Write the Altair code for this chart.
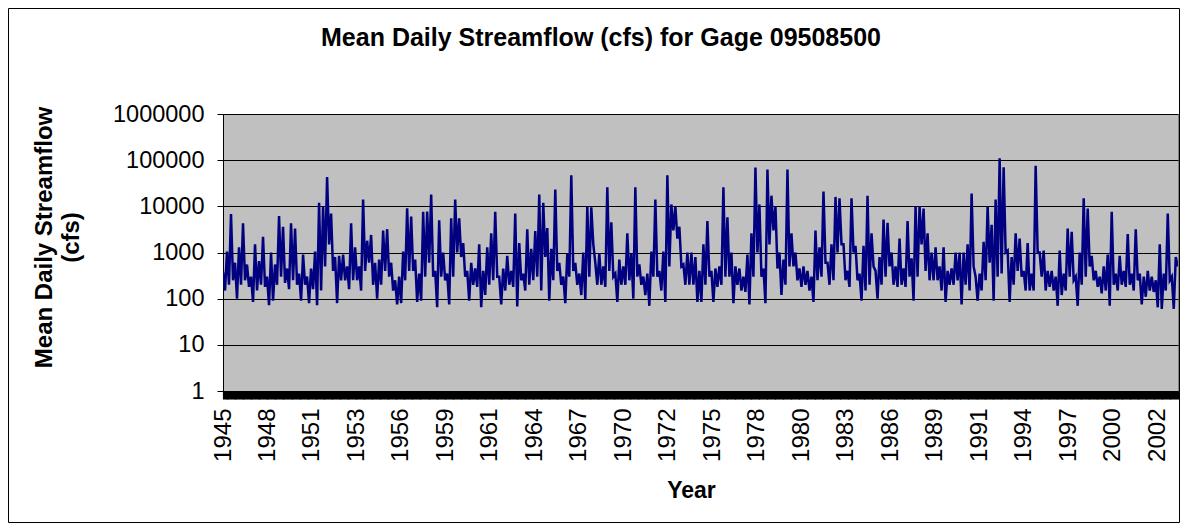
import json
import altair as alt
import pandas as pd

# ---------------- data ----------------
chart_title = "Mean Daily Streamflow (cfs) for Gage 09508500"
y_title = ["Mean Daily Streamflow", "(cfs)"]
x_title = "Year"

# category-axis labels, one every 1000 daily records
year_labels = ["1945", "1948", "1951", "1953", "1956", "1959", "1961", "1964",
               "1967", "1970", "1972", "1975", "1978", "1980", "1983", "1986",
               "1989", "1991", "1994", "1997", "2000", "2002"]
label_step_days = 1000
sample_step_days = 45      # envelope sample spacing (days)
total_days = 21470

y_ticks = [1, 10, 100, 1000, 10000, 100000, 1000000]

# highest flow in each ~90-day window (cfs)
peak_cfs = [
    380, 1050, 6800, 600, 1300, 4300, 550, 300, 1500, 650,
    2200, 300, 1000, 550, 6200, 3600, 450, 4300, 3300, 350,
    900, 300, 450, 1050, 12000, 10000, 43000, 7000, 800, 850,
    900, 500, 4300, 1300, 500, 14000, 1800, 2400, 600, 700,
    3000, 3200, 600, 250, 300, 1050, 9100, 6000, 700, 350,
    7600, 7700, 18000, 400, 5000, 1000, 350, 5500, 14000, 5500,
    1600, 400, 600, 450, 1500, 400, 1300, 2600, 7600, 300,
    450, 850, 400, 7000, 1600, 350, 3200, 1200, 2900, 18000,
    12000, 3400, 1200, 23000, 600, 300, 950, 47000, 600, 350,
    1000, 10000, 9500, 600, 950, 500, 26000, 4500, 350, 700,
    500, 2600, 950, 26000, 550, 300, 350, 1050, 14000, 400,
    1050, 47000, 11000, 10000, 3600, 550, 1000, 1000, 800, 400,
    1500, 4800, 400, 450, 500, 26000, 5800, 1000, 500, 450,
    300, 900, 2600, 69000, 11000, 450, 63000, 17000, 10000, 1000,
    700, 63000, 2600, 1000, 450, 500, 400, 300, 3000, 1300,
    21000, 600, 1500, 16000, 15000, 1500, 400, 15000, 1400, 350,
    1400, 17000, 2600, 400, 800, 5200, 4400, 1000, 500, 2000,
    450, 4800, 750, 10000, 10000, 9000, 2600, 1000, 1300, 500,
    1300, 400, 450, 1000, 1000, 1000, 1500, 19000, 300, 350,
    1700, 10000, 4000, 14000, 110000, 70000, 1100, 800, 2600, 2000,
    400, 1600, 350, 76000, 1000, 1100, 400, 400, 300, 1100,
    350, 3300, 2800, 300, 1000, 15000, 9000, 850, 400, 300,
    500, 900, 7600, 350, 850, 400, 2500, 350, 3200, 350,
    300, 400, 300, 250, 1500, 350, 7000, 300, 800,
]

# lowest flow in each ~90-day window (cfs)
low_cfs = [
    150, 200, 250, 100, 200, 250, 180, 85, 150, 200,
    180, 72, 90, 200, 300, 220, 160, 250, 200, 90,
    200, 80, 160, 72, 150, 500, 1500, 400, 80, 250,
    250, 160, 250, 250, 150, 400, 600, 200, 100, 200,
    400, 300, 150, 75, 80, 250, 400, 400, 85, 90,
    300, 600, 300, 65, 300, 250, 75, 300, 1000, 800,
    300, 90, 200, 180, 65, 120, 200, 250, 300, 75,
    150, 200, 180, 68, 250, 150, 200, 250, 300, 150,
    800, 90, 250, 400, 200, 80, 300, 400, 200, 120,
    95, 300, 1500, 200, 200, 180, 400, 300, 85, 200,
    200, 250, 100, 300, 200, 120, 70, 300, 300, 150,
    85, 500, 3000, 2000, 500, 200, 200, 200, 85, 85,
    200, 300, 85, 180, 200, 300, 300, 80, 200, 150,
    140, 75, 300, 1000, 300, 80, 1500, 3000, 450, 120,
    200, 500, 500, 250, 180, 200, 150, 85, 250, 300,
    600, 200, 250, 1000, 1500, 250, 180, 1000, 250, 90,
    150, 200, 500, 100, 200, 300, 500, 200, 180, 200,
    180, 300, 90, 300, 1500, 400, 250, 250, 250, 150,
    85, 200, 200, 250, 75, 200, 150, 500, 90, 150,
    250, 600, 90, 300, 350, 1000, 85, 200, 400, 300,
    150, 150, 150, 1000, 300, 150, 180, 150, 70, 120,
    150, 300, 250, 70, 200, 300, 500, 250, 180, 130,
    150, 70, 200, 150, 200, 180, 200, 150, 250, 75,
    110, 150, 140, 65, 60, 150, 250, 60, 500,
]

# ---------------- build table ----------------
flow = []
for hi, lo in zip(peak_cfs, low_cfs):
    flow.extend([hi, lo])
df = pd.DataFrame({
    "day": [i * sample_step_days for i in range(len(flow))],
    "cfs": flow,
})

tick_days = list(range(0, total_days, 20))
label_expr = (
    f"datum.value % {label_step_days} === 0 ? "
    f"{json.dumps(year_labels)}[datum.value / {label_step_days}] : ''"
)

FONT = "Liberation Sans"

line = alt.Chart(df).mark_line(color="#000080", strokeWidth=2.5, clip=True).encode(
    x=alt.X(
        "day:Q",
        scale=alt.Scale(domain=[0, total_days], nice=False, zero=False),
        axis=alt.Axis(
            values=tick_days,
            labelExpr=label_expr,
            labelAngle=270,
            labelFont=FONT,
            labelFontSize=24,
            labelColor="black",
            labelPadding=9,
            labelOverlap=False,
            labelFlush=False,
            labelBound=False,
            tickSize=8,
            tickColor="black",
            tickWidth=1.2,
            domainColor="black",
            grid=False,
            title=x_title,
            titleFont=FONT,
            titleFontSize=23,
            titleFontWeight="bold",
            titleColor="black",
            titleX=468,
            titleY=99,
            titleAlign="center",
            titleBaseline="middle",
        ),
    ),
    y=alt.Y(
        "cfs:Q",
        scale=alt.Scale(type="log", domain=[1, 1000000], nice=False),
        axis=alt.Axis(
            values=y_ticks,
            format="d",
            labelFont=FONT,
            labelFontSize=23.5,
            labelColor="black",
            labelPadding=13,
            tickSize=6,
            tickColor="black",
            domainColor="black",
            gridColor="black",
            gridWidth=1,
            gridOpacity=1,
            title=y_title,
            titleFont=FONT,
            titleFontSize=24,
            titleFontWeight="bold",
            titleColor="black",
            titleAngle=270,
            titleX=-179,
            titleY=123,
            titleAlign="center",
            titleBaseline="middle",
            titleLineHeight=27,
        ),
    ),
)

title_mark = alt.Chart(pd.DataFrame({"t": [chart_title]})).mark_text(
    font=FONT, fontSize=25, fontWeight="bold", color="black",
    align="center", baseline="middle",
).encode(text="t:N", x=alt.value(378), y=alt.value(-76))

frame = alt.Chart(pd.DataFrame({"t": [0]})).mark_rect(
    fillOpacity=0, stroke="black", strokeWidth=1,
).encode(x=alt.value(-214.5), x2=alt.value(956.5),
         y=alt.value(-105.5), y2=alt.value(408.5))

chart = alt.layer(line, frame, title_mark).properties(
    width=955,
    height=277,
    autosize=alt.AutoSizeParams(type="none"),
    padding={"left": 215, "top": 106, "right": 2, "bottom": 132},
    background="white",
).configure_view(
    fill="#C0C0C0",
    stroke="#808080",
    strokeWidth=1,
)

chart.save("out.html", embed_options={"renderer": "svg", "actions": False})
